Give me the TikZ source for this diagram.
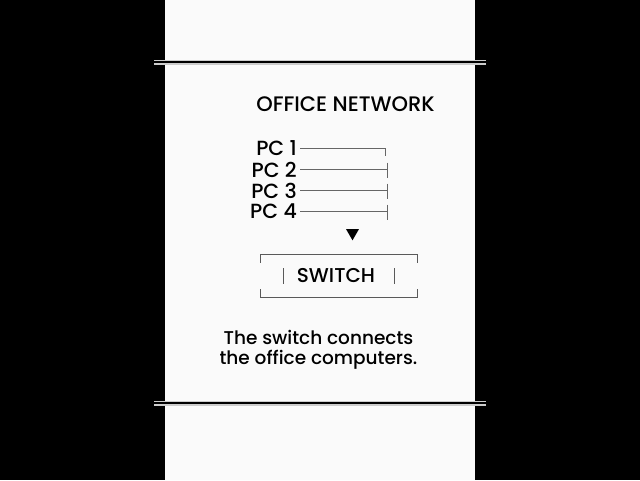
\documentclass[tikz,border=0pt]{standalone}
\usepackage{fontspec}
\setmainfont{Poppins}[UprightFont=* Medium]
\usetikzlibrary{shapes.geometric, positioning}
\tikzset{
    pcLabel/.style={anchor=east, inner sep=0pt, font=\fontsize{20.5}{20.5}\selectfont},
    pcLink/.style={draw=black!60, line width=0.9pt},
    frameLine/.style={draw=black!65, line width=1pt},
    ruleLine/.style={line width=2.4pt, black},
    ruleHalo/.style={line width=5pt, black!20},
}
\newcommand{\drawPC}[3]{
    \node[pcLabel] (#1) at (297, #2) {#3};
}

\begin{document}
\begin{tikzpicture}[x=1pt, y=-1pt]
        \useasboundingbox (0,0) rectangle (640,480);
        % fond
        \fill[black] (0,0) rectangle (640,480);
        \fill[black!2] (164.5,0) rectangle (475,480);
        \draw[ruleHalo] (154,62) -- (486,62);
        \draw[ruleLine] (154,62) -- (486,62);
        \draw[ruleHalo] (154,403) -- (486,403);
        \draw[ruleLine] (154,403) -- (486,403);

        \node[font=\fontsize{21}{21}\selectfont, inner sep=0pt] (title) at (345.5,104) {OFFICE NETWORK};

        \drawPC{pc1}{148}{PC 1}
        \drawPC{pc2}{169.5}{PC 2}
        \drawPC{pc3}{190.5}{PC 3}
        \drawPC{pc4}{211.5}{PC 4}

        \coordinate (e1) at (385,148);
        \coordinate (e2) at (387,169.5);
        \coordinate (e3) at (387,190.5);
        \coordinate (e4) at (387,211.5);

        \draw[pcLink] ([xshift=3pt]pc1.east) -- (e1) -- ++(0,8);
        \foreach \i in {2,3,4} {
            \draw[pcLink] ([xshift=3pt]pc\i.east) -- (e\i);
            \draw[pcLink] ([yshift=7pt]e\i) -- ([yshift=-8pt]e\i);
        }

        \node[regular polygon, regular polygon sides=3, shape border rotate=180, fill=black, inner sep=0pt, minimum size=15pt] (arrow) at (352.5,232.8) {};

        \node[minimum width=156pt, minimum height=42pt, inner sep=0pt] (swbox) at (339,276) {};
        \node[font=\fontsize{20}{20}\selectfont, inner sep=0pt] (switch) at (336,275.5) {SWITCH};
        \draw[frameLine] ([yshift=-8pt]swbox.north west) -- (swbox.north west) -- (swbox.north east) -- ([yshift=-8pt]swbox.north east);
        \draw[frameLine] ([yshift=8pt]swbox.south west) -- (swbox.south west) -- (swbox.south east) -- ([yshift=8pt]swbox.south east);
        \coordinate (tl) at (283,276);
        \coordinate (tr) at (394,276);
        \draw[frameLine] ([yshift=8pt]tl) -- ([yshift=-8pt]tl);
        \draw[frameLine] ([yshift=8pt]tr) -- ([yshift=-8pt]tr);

        \node[font=\fontsize{18.5}{20.5}\selectfont, align=center, inner sep=0pt] (caption) at (318.5,350) {The switch connects\\the office computers.};
    \end{tikzpicture}
\end{document}
